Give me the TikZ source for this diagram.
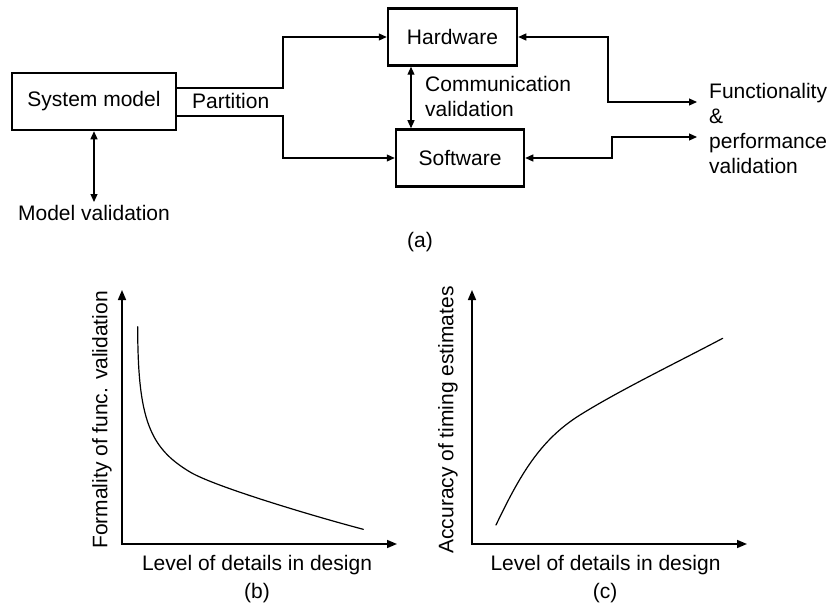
\documentclass[tikz,border=0pt]{standalone}
\usepackage{fontspec}
\setmainfont{Liberation Sans}
\usetikzlibrary{arrows.meta}
\begin{document}
\begin{tikzpicture}[x=1pt,y=-1pt,
  every node/.style={font=\fontsize{21}{24.7}\selectfont, inner sep=0pt},
  blockbox/.style={draw, line width=2.5pt, minimum width=#1, minimum height=57pt},
  conn/.style={line width=1.2pt, {Triangle[length=8pt,width=7pt]}-{Triangle[length=8pt,width=7pt]}},
  fwd/.style={line width=1.2pt, -{Triangle[length=8pt,width=7pt]}},
  axis/.style={line width=1.6pt, {Triangle[length=10pt,width=8pt]}-{Triangle[length=10pt,width=8pt]}},
  curve/.style={line width=1.2pt, line cap=round, line join=round}]
\useasboundingbox (0,0) rectangle (831,610);

% --- (a) partitioning and validation flow ---
\node[blockbox=164pt] (sys) at (94,101.5) {System model};
\node[blockbox=129pt] (hw) at (452.5,37) {Hardware};
\node[blockbox=128pt] (sw) at (460,158) {Software};

\node[anchor=base west] (part) at (192,109) {Partition};
\node[anchor=base] (mv) at (94,220) {Model validation};
\node[anchor=north west, align=left] (comm) at (425,76.5) {Communication\\validation};
\node[anchor=north west, align=left] (func) at (709,83.5) {Functionality\\\&\\performance\\validation};
\node[anchor=base] (capa) at (420,247) {(a)};

\coordinate (fin1) at (697,102);
\coordinate (fin2) at (697,137);
\coordinate (mvtop) at (94,202);

\draw[fwd] ([yshift=13.5pt]sys.east) -- (283,88) |- (hw.west);
\draw[fwd] ([yshift=-14.5pt]sys.east) -- (283,116) |- (sw.west);
\draw[conn] (sys.south) -- (mvtop);
\draw[conn] ([xshift=-41.5pt]hw.south) -- ([xshift=-49pt]sw.north);
\draw[conn] (hw.east) -- (608,37) |- (fin1);
\draw[conn] (sw.east) -- (612,158) |- (fin2);

% --- (b) formality of functional validation ---
\coordinate (bo) at (122,544);
\draw[axis] (122,290) -- (bo) -- (397,544);
\draw[curve] (137.7,326.7) .. controls (137.7,420) and (150,448) .. (190,472)
  .. controls (215,487) and (320,518) .. (363.3,529.3);
\node[anchor=base] (xb) at (257,570) {Level of details in design};
\node[anchor=base] (capb) at (257,598) {(b)};
\node[rotate=90] (yb) at (102,420) {Formality of func. validation};

% --- (c) accuracy of timing estimates ---
\coordinate (co) at (472,544);
\draw[axis] (472,290) -- (co) -- (747,544);
\draw[curve] (496,525) .. controls (520,475) and (540,440) .. (580,415)
  .. controls (620,390) and (680,361) .. (722.7,338.3);
\node[anchor=base] (xc) at (605.5,570) {Level of details in design};
\node[anchor=base] (capc) at (605,598) {(c)};
\node[rotate=90] (yc) at (448,420) {Accuracy of timing estimates};
\end{tikzpicture}
\end{document}
